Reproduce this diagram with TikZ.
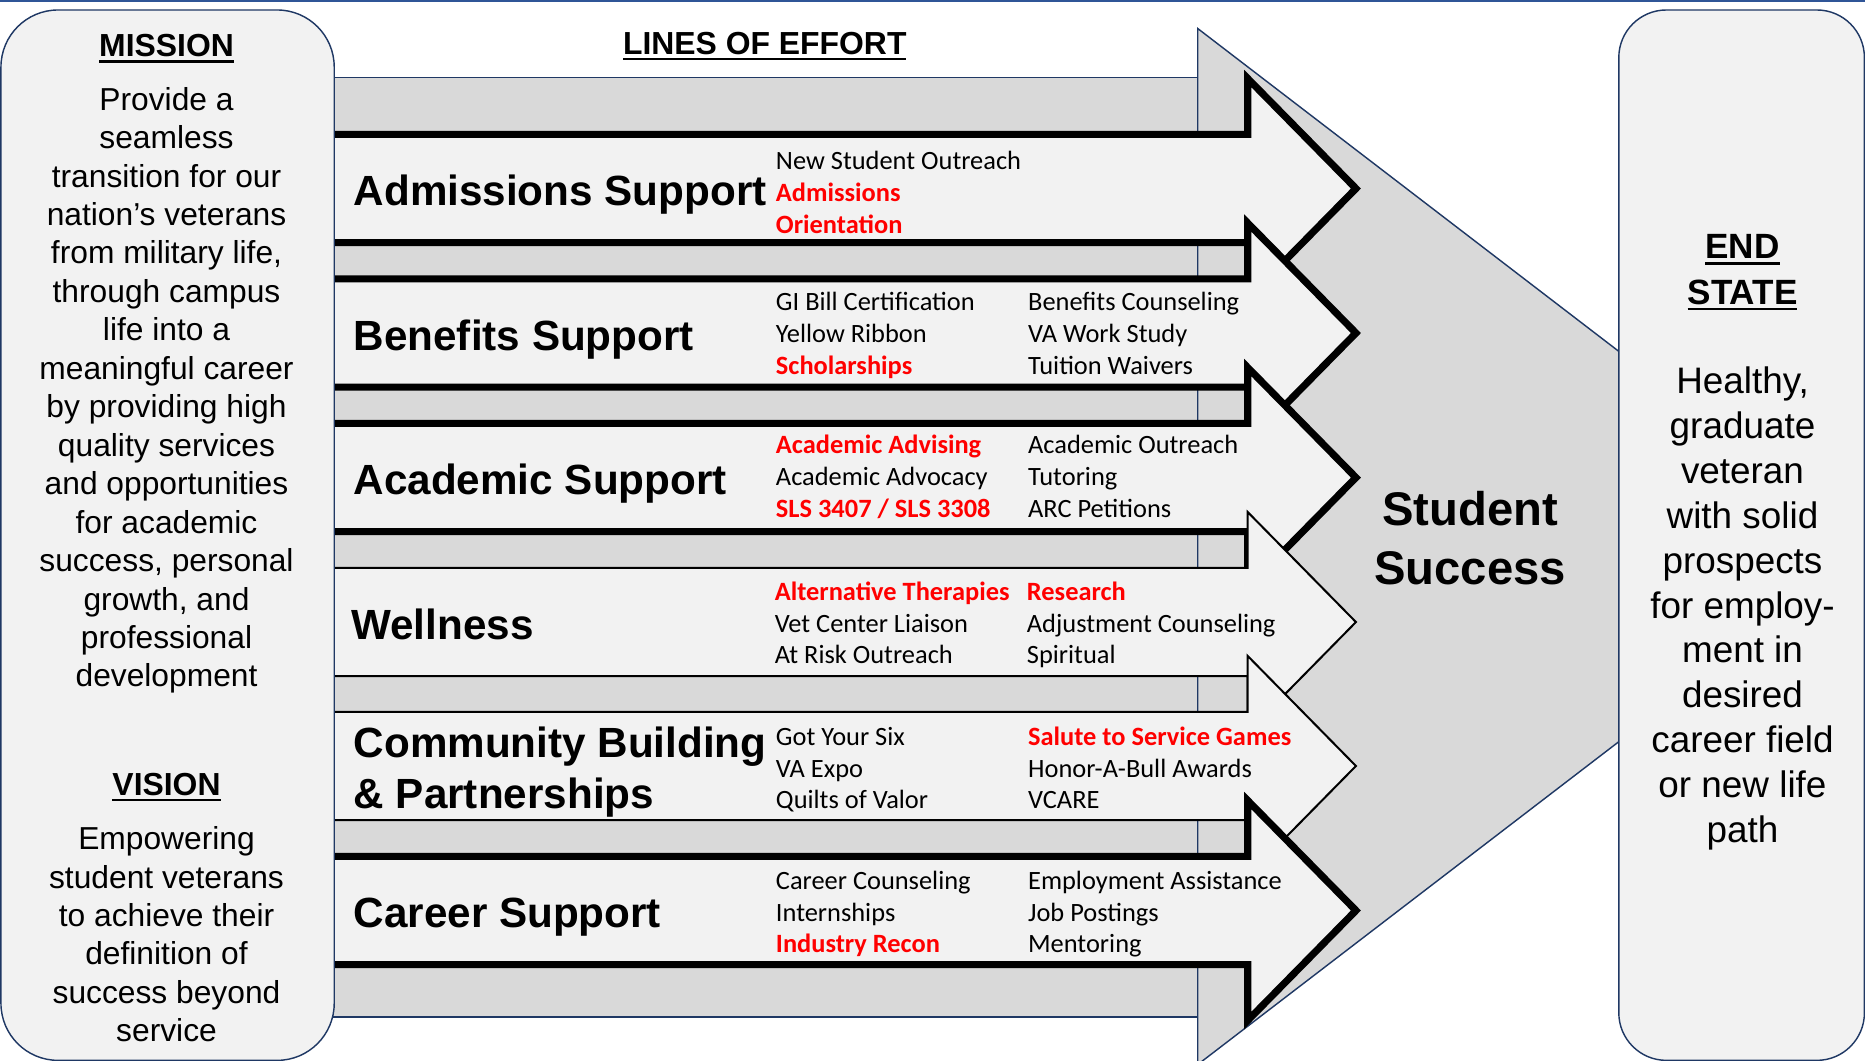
\documentclass[tikz,border=0pt]{standalone}
\usepackage{fontspec}
\setmainfont{Liberation Sans}
\newfontfamily\calfont{Carlito}
\definecolor{navy}{RGB}{31,56,100}
\definecolor{lightfill}{RGB}{242,242,242}
\definecolor{midgray}{RGB}{217,217,217}
\definecolor{topblue}{RGB}{47,85,151}
\definecolor{myred}{RGB}{255,0,0}
\newcommand\myul[1]{\setbox0\hbox{#1}\rlap{\rule[-2.6pt]{\wd0}{1.1pt}}\box0}
\tikzset{
  bigarrow/.style={fill=midgray, draw=navy, line width=0.6pt},
  loethick/.style={fill=lightfill, draw=black, line width=3pt, line join=miter, miter limit=12},
  loethin/.style={fill=lightfill, draw=black, line width=0.85pt, line join=miter, miter limit=12},
  sidebox/.style={fill=lightfill, draw=navy, line width=0.6pt},
  head/.style={anchor=base west, inner sep=0pt, font=\fontsize{17.75pt}{21pt}\selectfont\bfseries},
  item/.style={anchor=base west, inner sep=0pt, font=\calfont\fontsize{11.1pt}{13.5pt}\selectfont},
  ritem/.style={item, text=myred, font=\calfont\fontsize{11.1pt}{13.5pt}\selectfont\bfseries},
  mtext/.style={anchor=base, inner sep=0pt, font=\fontsize{13.35pt}{16pt}\selectfont},
  title/.style={anchor=base, inner sep=0pt, font=\fontsize{13.4pt}{16pt}\selectfont\bfseries},
  etext/.style={anchor=base, inner sep=0pt, font=\fontsize{15.5pt}{18pt}\selectfont},
  etitle/.style={anchor=base, inner sep=0pt, font=\fontsize{14.75pt}{18pt}\selectfont\bfseries},
  ss/.style={anchor=base, inner sep=0pt, font=\fontsize{19.85pt}{24pt}\selectfont\bfseries},
}
\newcommand\loearrow[2]{%
  \draw[#1] (270,#2-45.5) -- (1049,#2-45.5) -- (1049,#2-92.5) -- (1140,#2) -- (1049,#2+92.5) -- (1049,#2+45.5) -- (270,#2+45.5) -- cycle;}
\begin{document}
\begin{tikzpicture}[x=0.5pt,y=-0.5pt]
\useasboundingbox (0,0) rectangle (1568,892);
\fill[white] (0,0) rectangle (1568,892);
\fill[topblue] (0,0) rectangle (1568,2);
% big background arrow
\draw[bigarrow] (270,65) rectangle (1007,855);
\draw[bigarrow] (1007,24) -- (1575,459.5) -- (1007,895) -- cycle;
% lines of effort arrows
\loearrow{loethick}{158.5}
\loearrow{loethick}{280}
\loearrow{loethick}{401.5}
\loearrow{loethin}{523}
\loearrow{loethin}{644}
\loearrow{loethick}{765.5}
% side boxes
\draw[sidebox, rounded corners=24pt] (0.8,8.4) rectangle (281,891.5);
\draw[sidebox, rounded corners=20pt] (1361,8.4) rectangle (1567.5,891.5);
% titles
\node[title] (loe) at (643,45.6) {\myul{LINES OF EFFORT}};
\node[title] (mission) at (140,47.6) {\myul{MISSION}};
\node[title] (vision) at (140,668.6) {\myul{VISION}};
\foreach \t [count=\i from 0] in {Provide a, seamless, transition for our, nation’s veterans, {from military life,}, through campus, life into a, meaningful career, by providing high, quality services, and opportunities, for academic, {success, personal}, {growth, and}, professional, development}
  \node[mtext] (m\i) at (140,92.6+32.33*\i) {\t};
\foreach \t [count=\i from 0] in {Empowering, student veterans, to achieve their, definition of, success beyond, service}
  \node[mtext] (v\i) at (140,714.6+32.2*\i) {\t};
\node[etitle] (end1) at (1465,217.6) {\myul{END}};
\node[etitle] (end2) at (1465,255.6) {\myul{STATE}};
\foreach \t [count=\i from 0] in {{Healthy,}, graduate, veteran, with solid, prospects, for employ-, ment in, desired, career field, or new life, path}
  \node[etext] (e\i) at (1465,331.1+37.7*\i) {\t};
\node[ss] (ss1) at (1236,442.2) {Student};
\node[ss] (ss2) at (1236,491.2) {Success};
% headings
\node[head] (h1) at (297,172.7) {Admissions Support};
\node[head] (h2) at (297,294.7) {Benefits Support};
\node[head] (h3) at (297,415.7) {Academic Support};
\node[head] (h4) at (295,537.7) {Wellness};
\node[head] (h5a) at (297,636.7) {Community Building};
\node[head] (h5b) at (297,679.7) {\& Partnerships};
\node[head] (h6) at (297,779.7) {Career Support};
% items
\node[item] (a1) at (652,142.1) {New Student Outreach};
\node[ritem] (a2) at (652,169.1) {Admissions};
\node[ritem] (a3) at (652,196.1) {Orientation};
\node[item] (b1) at (652,261.1) {GI Bill Certification};
\node[item] (b2) at (652,288.1) {Yellow Ribbon};
\node[ritem] (b3) at (652,315.1) {Scholarships};
\node[item] (b4) at (864,261.1) {Benefits Counseling};
\node[item] (b5) at (864,288.1) {VA Work Study};
\node[item] (b6) at (864,315.1) {Tuition Waivers};
\node[ritem] (c1) at (652,381.1) {Academic Advising};
\node[item] (c2) at (652,408.1) {Academic Advocacy};
\node[ritem] (c3) at (652,435.1) {SLS 3407 / SLS 3308};
\node[item] (c4) at (864,381.1) {Academic Outreach};
\node[item] (c5) at (864,408.1) {Tutoring};
\node[item] (c6) at (864,435.1) {ARC Petitions};
\node[ritem] (d1) at (651,505.1) {Alternative Therapies};
\node[item] (d2) at (651,532.1) {Vet Center Liaison};
\node[item] (d3) at (651,558.1) {At Risk Outreach};
\node[ritem] (d4) at (863,505.1) {Research};
\node[item] (d5) at (863,532.1) {Adjustment Counseling};
\node[item] (d6) at (863,558.1) {Spiritual};
\node[item] (f1) at (652,627.1) {Got Your Six};
\node[item] (f2) at (652,654.1) {VA Expo};
\node[item] (f3) at (652,680.1) {Quilts of Valor};
\node[ritem] (f4) at (864,627.1) {Salute to Service Games};
\node[item] (f5) at (864,654.1) {Honor-A-Bull Awards};
\node[item] (f6) at (864,680.1) {VCARE};
\node[item] (g1) at (652,748.1) {Career Counseling};
\node[item] (g2) at (652,775.1) {Internships};
\node[ritem] (g3) at (652,801.1) {Industry Recon};
\node[item] (g4) at (864,748.1) {Employment Assistance};
\node[item] (g5) at (864,775.1) {Job Postings};
\node[item] (g6) at (864,801.1) {Mentoring};
\end{tikzpicture}
\end{document}
